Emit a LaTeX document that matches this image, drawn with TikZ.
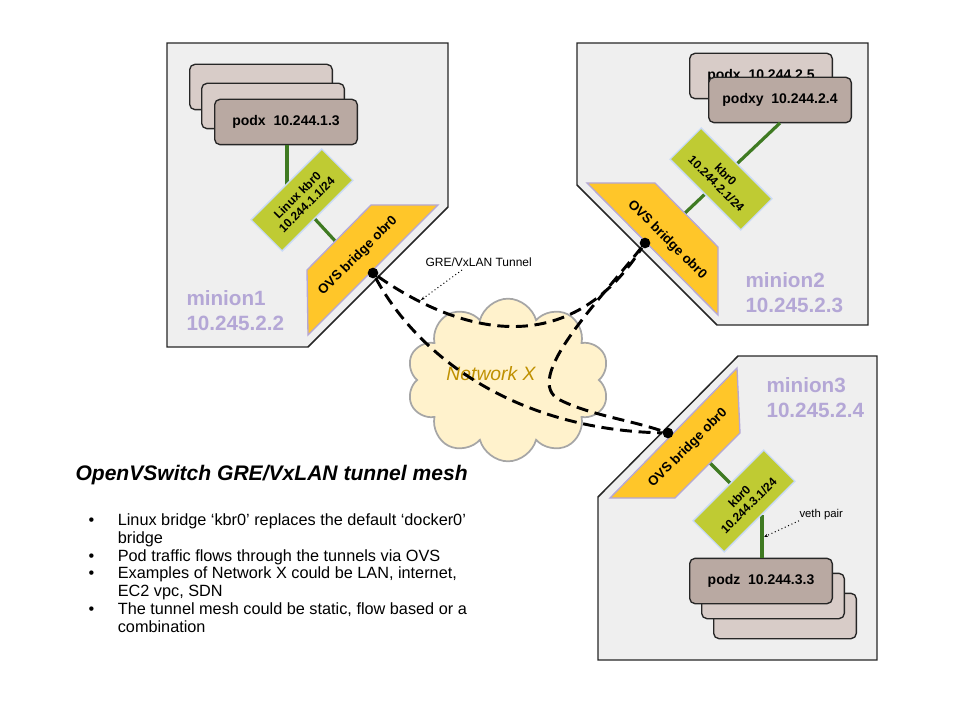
\documentclass[tikz,border=0pt]{standalone}
\usepackage{fontspec}
\setmainfont{Liberation Sans}
\usetikzlibrary{shapes.symbols,arrows.meta}
\definecolor{boxfill}{HTML}{EFEFEF}
\definecolor{ovsfill}{HTML}{FFC629}
\definecolor{ovsline}{HTML}{B4A7D6}
\definecolor{kbrfill}{HTML}{BFCB33}
\definecolor{kbrline}{HTML}{C9DAF8}
\definecolor{podfront}{HTML}{B9A9A2}
\definecolor{podback}{HTML}{D8CCC8}
\definecolor{linkgreen}{HTML}{3F7A22}
\definecolor{cloudfill}{HTML}{FFF2CC}
\definecolor{netx}{HTML}{BF9000}
\tikzset{every picture/.style={line width=0.75pt}}
\tikzset{
  minion/.style={draw=black!85, fill=boxfill, line width=1.1pt},
  ovs/.style={draw=ovsline, fill=ovsfill, line width=1pt},
  kbr/.style={draw=kbrline, fill=kbrfill, line width=1pt, minimum width=75pt, minimum height=33pt, inner sep=0pt, align=center, font=\bfseries\fontsize{9}{10}\selectfont},
  pod/.style={draw=black!85, rounded corners=4pt, minimum width=107pt, minimum height=34pt, line width=1pt, font=\bfseries\fontsize{10.5}{12}\selectfont},
  podb/.style={pod, fill=podback},
  podf/.style={pod, fill=podfront},
  link/.style={draw=linkgreen, line width=2.4pt},
  tunnel/.style={draw=black, line width=2.2pt, dash pattern=on 9pt off 5pt},
  port/.style={circle, fill=black, inner sep=0pt, minimum size=8pt},
  mlabel/.style={text=ovsline, font=\bfseries\fontsize{15.5}{18}\selectfont, anchor=west, inner sep=0pt},
  ovstext/.style={font=\bfseries\fontsize{10}{11}\selectfont}
}
\begin{document}
\begin{tikzpicture}[x=0.75pt,y=0.75pt,yscale=-1,xscale=1]
\useasboundingbox (0,0) rectangle (960,720);

%Shape: minion boxes
\draw[minion] (167,43) -- (448,43) -- (448,207) -- (308,347) -- (167,347) -- cycle ;
\draw[minion] (577,43) -- (868,43) -- (868,325) -- (717,325) -- (577,185) -- cycle ;
\draw[minion] (738,356) -- (877,356) -- (877,660) -- (598,660) -- (598,497) -- cycle ;

%Shape: cloud
\node[cloud, cloud puffs=10, aspect=1.2, draw=black!35, fill=cloudfill, line width=1.3pt, minimum width=152pt, minimum height=122pt] (cloud) at (508,380) {};
\node[text=netx, font=\itshape\fontsize{14.5}{16}\selectfont] (netx) at (491,374) {Network X};

%minion1
\node[podb] (pod1c) at (261,87) {};
\node[podb] (pod1b) at (273,106) {};
\node[podf] (pod1a) at (286,122) {podx\ \ 10.244.1.3\hspace{12pt}};
\draw[link] (287,145) -- (287,190) ;
\draw[link] (314,218) -- (337,243) ;
\node[kbr, rotate=45] (kbr1) at (302,200) {Linux kbr0\\10.244.1.1/24};
\draw[ovs] (307,270) -- (371,205) -- (438,205) -- (308,335) -- cycle ;
\node[ovstext, rotate=45] (ovs1) at (358,256) {OVS bridge obr0};
\node[mlabel] (m1a) at (186,298) {minion1};
\node[mlabel] (m1b) at (186,323) {10.245.2.2};

%minion2
\node[podb] (pod2b) at (761,76) {podx\ \ 10.244.2.5\hspace{12pt}};
\node[podf] (pod2a) at (780,100) {podxy\ \ 10.244.2.4\hspace{8pt}};
\draw[link] (780,123) -- (685,213) ;
\node[kbr, rotate=-45] (kbr2) at (721,179) {kbr0\\10.244.2.1/24};
\draw[ovs] (587,183) -- (655,183) -- (718,247) -- (718,315) -- cycle ;
\node[ovstext, rotate=-45] (ovs2) at (667,240) {OVS bridge obr0};
\node[mlabel] (m2a) at (745,280) {minion2};
\node[mlabel] (m2b) at (745,305) {10.245.2.3};

%minion3
\node[podb] (pod3c) at (785,616) {};
\node[podb] (pod3b) at (773,596) {};
\node[podf] (pod3a) at (761,581) {podz\ \ 10.244.3.3\hspace{12pt}};
\draw[link] (710,463) -- (732,485) ;
\draw[link] (762,515) -- (762,558) ;
\node[kbr, rotate=45] (kbr3) at (744,501) {kbr0\\10.244.3.1/24};
\draw[ovs] (610,498) -- (737,368) -- (740,433) -- (675,498) -- cycle ;
\node[ovstext, rotate=45] (ovs3) at (688,448) {OVS bridge obr0};
\node[mlabel] (m3a) at (766,385) {minion3};
\node[mlabel] (m3b) at (766,410) {10.245.2.4};
\node[anchor=west, inner sep=0pt, font=\fontsize{8.5}{9}\selectfont] (veth) at (799,515) {veth pair};
\draw[dotted, -{Stealth[length=3pt]}] (veth.south west) -- (764,537) ;

%Tunnels
\node[port] (port1) at (373,273) {};
\node[port] (port2) at (645,243) {};
\node[port] (port3) at (668,433) {};
\draw[tunnel] (port1) .. controls (440,320) and (560,375) .. (port2) ;
\draw[tunnel] (port1) .. controls (420,360) and (520,430) .. (port3) ;
\draw[tunnel] (port2) .. controls (600,300) and (520,380) .. (560,400) .. controls (590,415) and (630,420) .. (port3) ;
\node[anchor=west, inner sep=0pt, font=\fontsize{9}{10}\selectfont] (gre) at (425,262) {GRE/VxLAN Tunnel};
\draw[dotted, -{Stealth[length=3pt]}] (462,270) -- (421,300) ;

% Text Node
\node[anchor=west, inner sep=0pt, font=\bfseries\itshape\fontsize{15.8}{18}\selectfont] (title) at (75,475) {OpenVSwitch GRE/VxLAN tunnel mesh};
\node[anchor=north west, inner sep=0pt, align=left, font=\fontsize{12.2}{13.4}\selectfont] (bullets) at (88,513) {%
\makebox[22pt][l]{\textbullet}Linux bridge ‘kbr0’ replaces the default ‘docker0’\\
\makebox[22pt][l]{}bridge\\
\makebox[22pt][l]{\textbullet}Pod traffic flows through the tunnels via OVS\\
\makebox[22pt][l]{\textbullet}Examples of Network X could be LAN, internet,\\
\makebox[22pt][l]{}EC2 vpc, SDN\\
\makebox[22pt][l]{\textbullet}The tunnel mesh could be static, flow based or a\\
\makebox[22pt][l]{}combination};

\end{tikzpicture}
\end{document}
